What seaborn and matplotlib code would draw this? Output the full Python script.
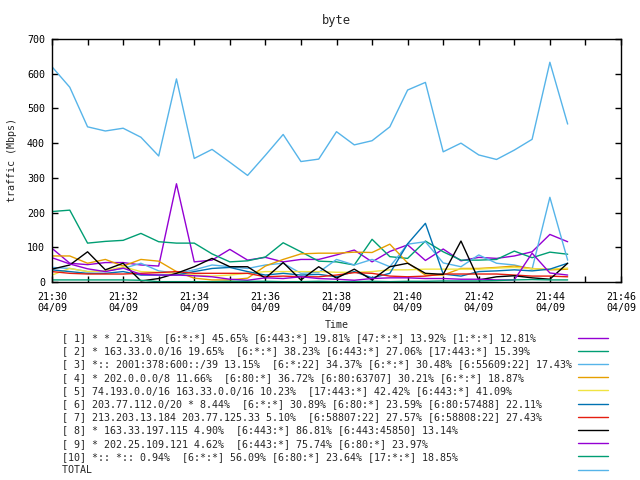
import pandas as pd
import matplotlib
matplotlib.use("Agg")
import matplotlib.pyplot as plt
import matplotlib.dates as mdates
import seaborn as sns

# samples every 30 s from 21:30
times = pd.date_range("2024-04-09 21:30:00", periods=30, freq="30s")

labels = [
    "[ 1] * * 21.31%  [6:*:*] 45.65% [6:443:*] 19.81% [47:*:*] 13.92% [1:*:*] 12.81%",
    "[ 2] * 163.33.0.0/16 19.65%  [6:*:*] 38.23% [6:443:*] 27.06% [17:443:*] 15.39%",
    "[ 3] *:: 2001:378:600::/39 13.15%  [6:*:22] 34.37% [6:*:*] 30.48% [6:55609:22] 17.43%",
    "[ 4] * 202.0.0.0/8 11.66%  [6:80:*] 36.72% [6:80:63707] 30.21% [6:*:*] 18.87%",
    "[ 5] 74.193.0.0/16 163.33.0.0/16 10.23%  [17:443:*] 42.42% [6:443:*] 41.09%",
    "[ 6] 203.77.112.0/20 * 8.44%  [6:*:*] 30.89% [6:80:*] 23.59% [6:80:57488] 22.11%",
    "[ 7] 213.203.13.184 203.77.125.33 5.10%  [6:58807:22] 27.57% [6:58808:22] 27.43%",
    "[ 8] * 163.33.197.115 4.90%  [6:443:*] 86.81% [6:443:45850] 13.14%",
    "[ 9] * 202.25.109.121 4.62%  [6:443:*] 75.74% [6:80:*] 23.97%",
    "[10] *:: *:: 0.94%  [6:*:*] 56.09% [6:80:*] 23.64% [17:*:*] 18.85%",
    "TOTAL",
]

s1 = [97, 54, 50, 56, 56, 49, 46, 283, 58, 63, 94, 63, 71, 58, 65,
      65, 78, 92, 58, 88, 107, 62, 95, 61, 71, 68, 75, 87, 137, 116]
s2 = [203, 207, 112, 117, 120, 140, 116, 112, 112, 81, 58, 61, 72, 113, 87,
      60, 58, 49, 123, 73, 68, 118, 87, 63, 63, 65, 89, 70, 86, 80]
s3 = [42, 39, 30, 32, 39, 54, 32, 25, 35, 49, 44, 39, 49, 54, 25,
      28, 65, 49, 65, 44, 109, 116, 55, 44, 78, 54, 49, 37, 244, 63]
s4 = [75, 75, 54, 65, 46, 65, 60, 30, 11, 6, 6, 11, 46, 65, 81,
      83, 83, 86, 85, 109, 55, 20, 20, 39, 39, 42, 46, 39, 35, 37]
s5 = [20, 39, 30, 32, 44, 30, 28, 25, 20, 17, 20, 25, 30, 30, 30,
      30, 28, 28, 30, 35, 35, 37, 37, 37, 37, 40, 42, 38, 37, 40]
s6 = [35, 30, 25, 25, 30, 20, 20, 20, 30, 39, 42, 30, 20, 25, 20,
      22, 15, 30, 12, 25, 110, 169, 23, 17, 30, 32, 35, 32, 37, 54]
s7 = [30, 25, 23, 23, 23, 25, 27, 30, 25, 25, 25, 25, 15, 17, 15,
      15, 20, 27, 25, 17, 15, 17, 23, 23, 23, 23, 20, 17, 17, 15]
s8 = [37, 49, 87, 35, 54, 3, 10, 25, 44, 68, 44, 44, 11, 56, 6,
      44, 11, 37, 6, 44, 54, 25, 22, 118, 6, 15, 18, 12, 8, 54]
s9 = [70, 52, 38, 30, 40, 22, 20, 20, 18, 15, 8, 5, 12, 10, 15,
      10, 8, 5, 10, 12, 12, 10, 10, 8, 8, 6, 6, 83, 26, 20]
s10 = [6, 6, 6, 6, 6, 5, 1, 1, 1, 1, 2, 2, 2, 1, 1,
       2, 1, 1, 2, 1, 2, 2, 3, 3, 3, 4, 6, 7, 6, 6]
total = [620, 561, 447, 435, 443, 417, 363, 585, 356, 382, 345, 307, 365, 425, 347,
         354, 433, 395, 407, 447, 553, 575, 375, 400, 366, 353, 380, 411, 633, 455]

series = [s1, s2, s3, s4, s5, s6, s7, s8, s9, s10, total]
colors = ["#9400d3", "#009e73", "#56b4e9", "#e69f00", "#f0e442", "#0072b2",
          "#e51e10", "#000000", "#9400d3", "#009e73", "#56b4e9"]

sns.set_style("ticks")
plt.rcParams["font.family"] = ["DejaVu Sans Mono"]
plt.rcParams["font.size"] = 7.2

frames = []
for lab, vals in zip(labels, series):
    frames.append(pd.DataFrame({"Time": times, "traffic": vals, "series": lab}))
df = pd.concat(frames, ignore_index=True)

fig = plt.figure(figsize=(6.4, 4.8), dpi=100)
ax = fig.add_axes([52 / 640, 1 - 282 / 480, (621 - 52) / 640, (282 - 39) / 480])
sns.lineplot(data=df, x="Time", y="traffic", hue="series", hue_order=labels,
             palette=colors, lw=1, ax=ax, legend=False, sort=False, errorbar=None)

ax.set_xlim(times[0], pd.Timestamp("2024-04-09 21:46:00"))
ax.set_ylim(0, 700)
ax.set_yticks(range(0, 701, 100))
ax.xaxis.set_major_locator(mdates.MinuteLocator(byminute=range(0, 60, 2)))
ax.xaxis.set_minor_locator(mdates.MinuteLocator())
ax.xaxis.set_major_formatter(mdates.DateFormatter("%H:%M\n%m/%d"))
ax.tick_params(which="both", direction="in", top=True, right=True,
               length=4, width=1, color="black", labelcolor="black")
ax.tick_params(axis="x", pad=7)
ax.tick_params(axis="y", pad=5)
for sp in ax.spines.values():
    sp.set_visible(True)
    sp.set_color("black")
    sp.set_linewidth(1)

ax.set_title("byte", pad=11)
ax.set_xlabel("Time", labelpad=5)
ax.set_ylabel("traffic (Mbps)", labelpad=7)

width = max(len(l) for l in labels)
padded = [l.ljust(width) for l in labels]
fig.legend(ax.get_lines(), padded, loc="upper left",
           bbox_to_anchor=(62 / 640, 1 - 333 / 480), frameon=False,
           markerfirst=False, handlelength=3.0, handletextpad=0.6,
           labelspacing=0.32, borderpad=0, borderaxespad=0, fontsize=7.2)

fig.savefig("out.png", dpi=100)
